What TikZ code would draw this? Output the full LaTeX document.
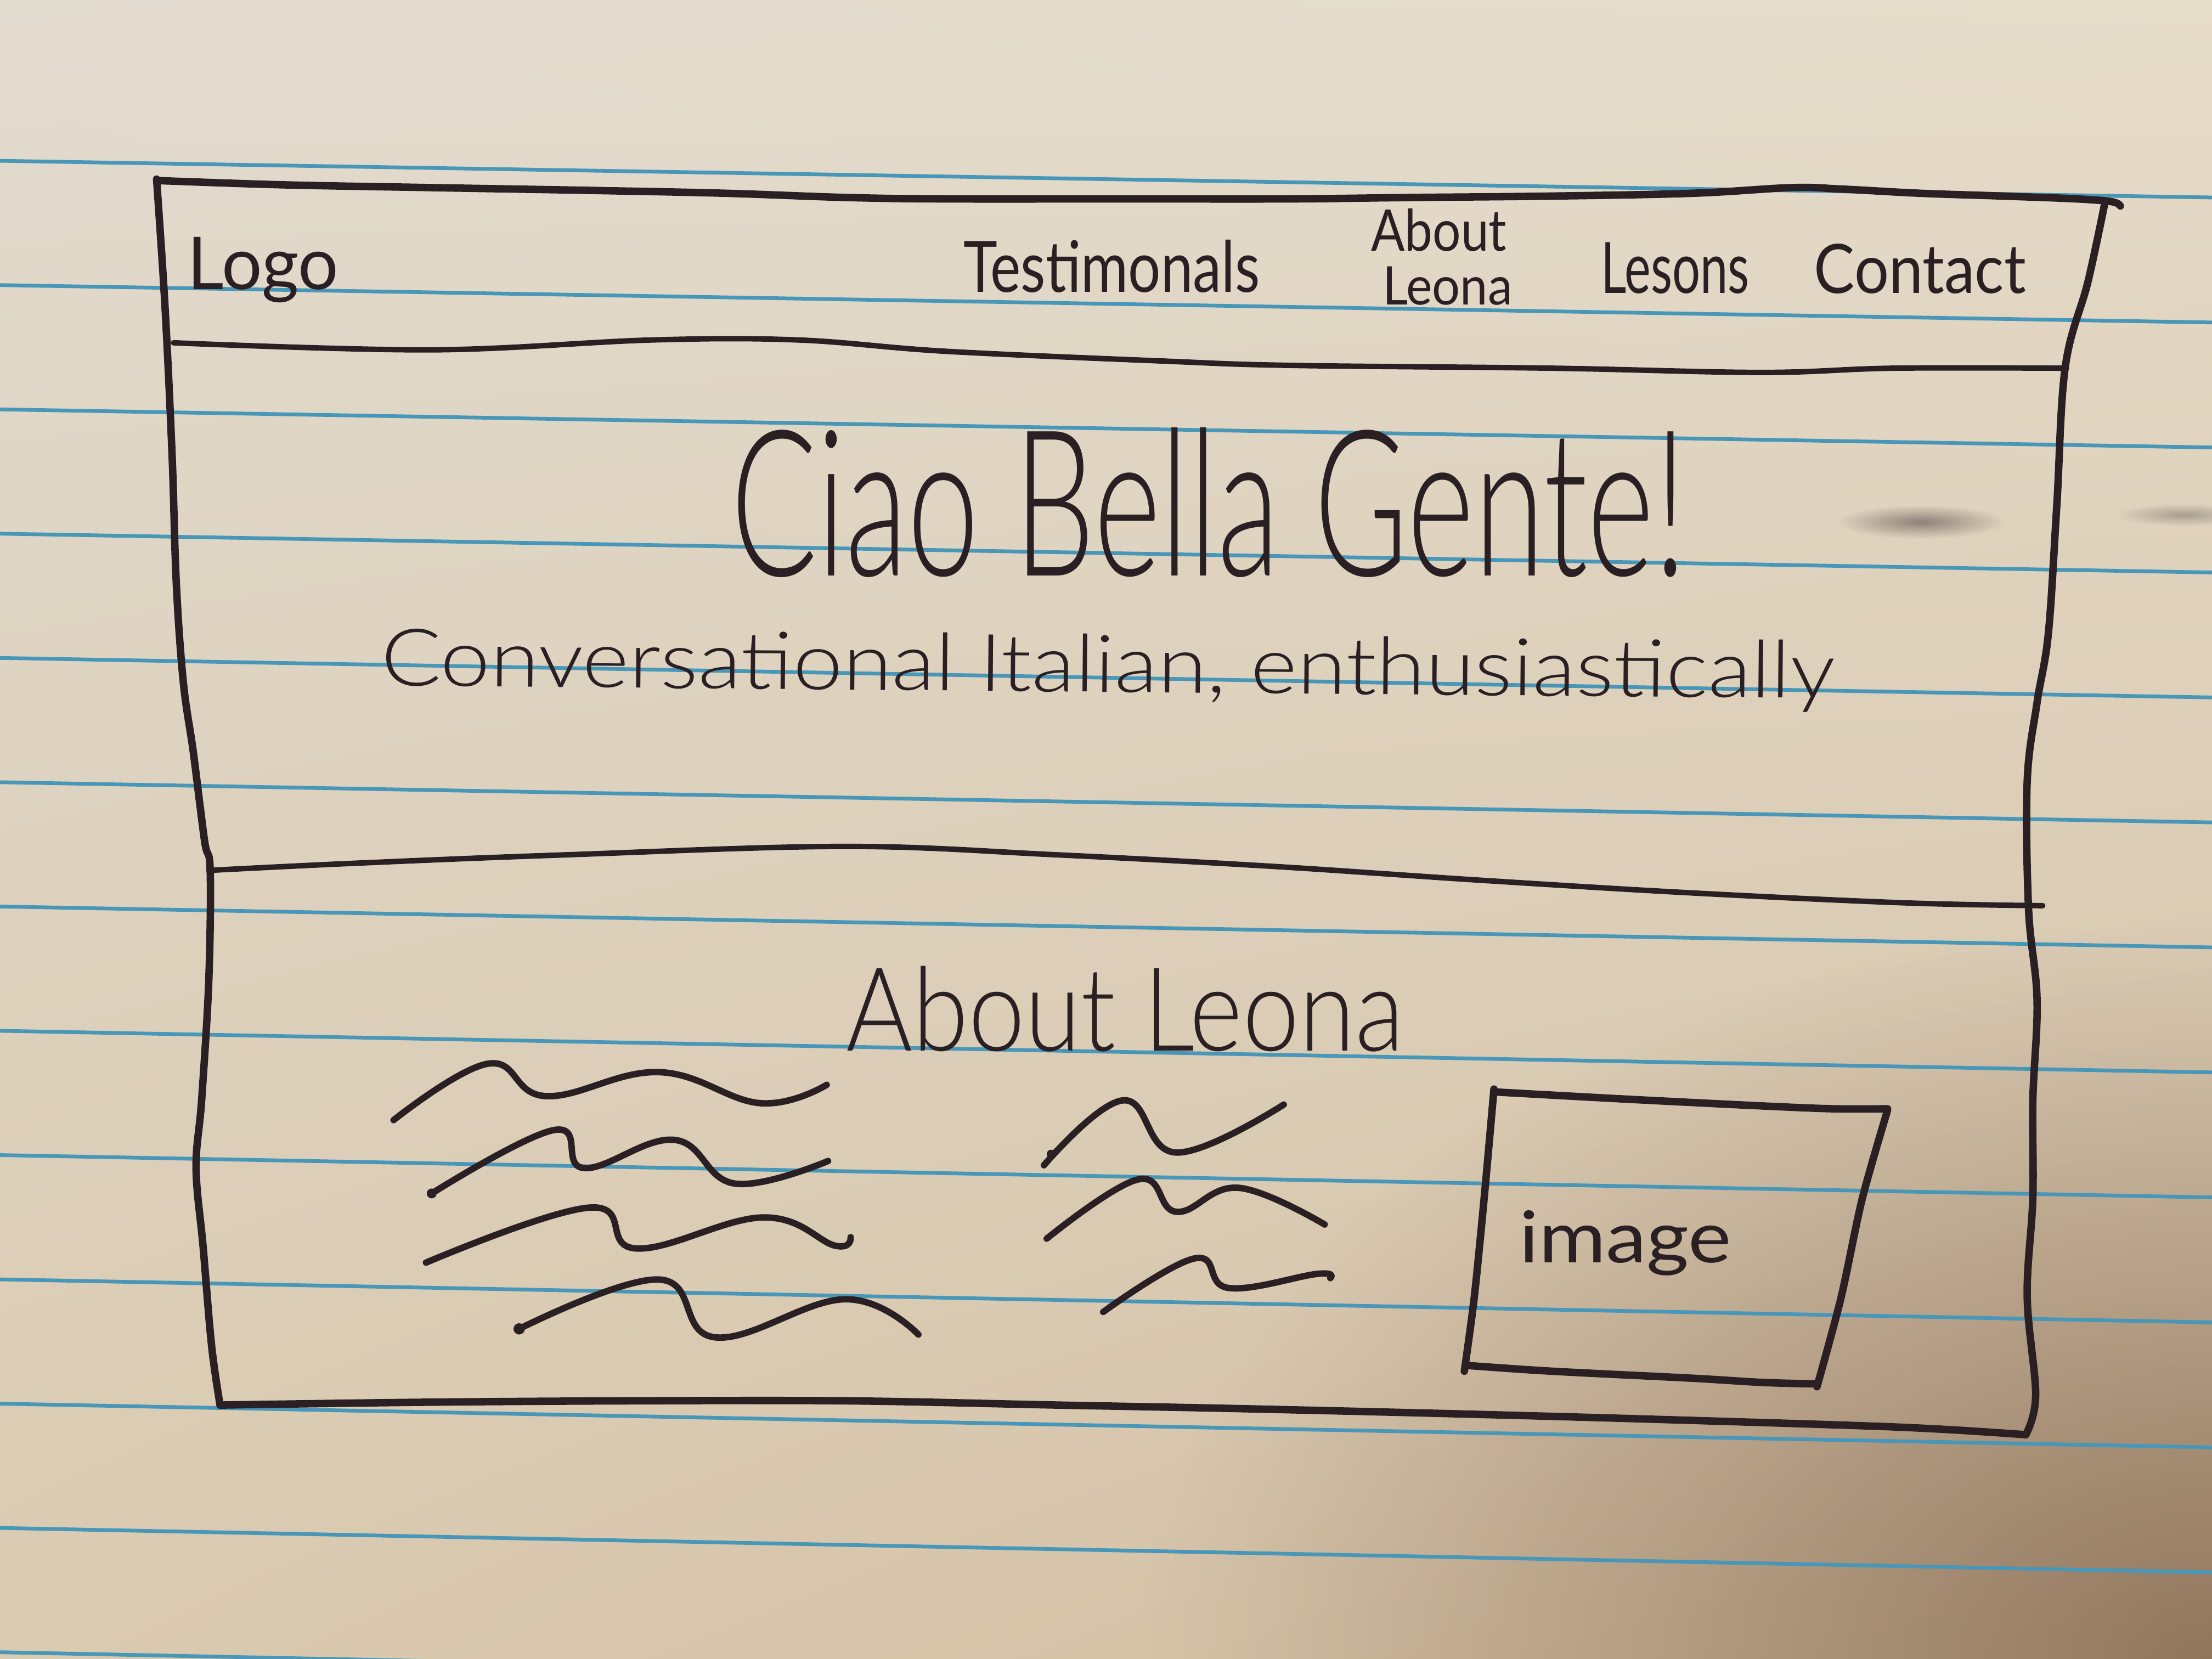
\documentclass[tikz,border=0pt]{standalone}
\usepackage{fontspec}
\setmainfont{Lato}
\newfontfamily\thinhand{Lato Light}
\usepackage{graphicx}
\usetikzlibrary{shadings,fadings}

\definecolor{paperA}{RGB}{226,219,207}
\definecolor{paperB}{RGB}{230,220,202}
\definecolor{paperC}{RGB}{218,202,176}
\definecolor{paperD}{RGB}{210,190,162}
\definecolor{shadowc}{RGB}{110,80,56}
\definecolor{rulec}{RGB}{72,150,184}
\definecolor{inkc}{RGB}{42,32,36}

% soft radial spot: opaque centre, transparent rim
\tikzfading[name=softspot, inner color=transparent!0, outer color=transparent!100]

% text squeezed to a given width and height above the baseline
\newcommand{\handtext}[3]{\resizebox{#1}{#2}{#3}}

\begin{document}
\begin{tikzpicture}[x=0.01cm,y=-0.01cm,
  rule/.style={draw=rulec, line width=0.75pt},
  pen/.style={draw=inkc, line width=1.5pt, line cap=round, line join=round},
  thinpen/.style={draw=inkc, line width=1.1pt, line cap=round, line join=round},
  wave/.style={draw=inkc, line width=1.3pt, line cap=round, line join=round},
  label/.style={inner sep=0pt, outer sep=0pt, text=inkc, anchor=base west}]

\useasboundingbox (0,0) rectangle (1568,1176);

% sheet of paper, darker towards the lower right corner
\shade[upper left=paperA, upper right=paperB, lower left=paperC, lower right=paperD]
  (0,0) rectangle (1568,1176);
\begin{scope}
  \clip (0,0) rectangle (1568,1176);
  \fill[shadowc, opacity=0.65, path fading=softspot]
    (1568,1176) ellipse (760 and 520);
\end{scope}

% ruled lines
\foreach \i in {0,...,12}
  \draw[rule] (0,{114+88.1*\i}) -- (1568,{140+88.6*\i});

% page frame
\draw[pen] plot[smooth, tension=0.6] coordinates {(112,128) (200,131) (306,133) (420,135) (514,137) (600,140) (670,141) (800,141) (914,141) (1000,140) (1100,139) (1200,137) (1270,133) (1305,134) (1361,137) (1420,139) (1472,141) (1497,143) (1503,146)};
\draw[pen] plot[smooth, tension=0.6] coordinates {(1492,144) (1480,200) (1464,260) (1458,358) (1452,449) (1444,498) (1437,554) (1438,645) (1444,709) (1441,780) (1441,849) (1437,919) (1443,989) (1436,1017)};
\draw[pen] plot[smooth, tension=0.6] coordinates {(111,127) (117,218) (122,323) (125,414) (130,484) (137,533) (145,596) (149,617) (148,695) (143,779) (139,828) (144,884) (150,954) (156,996)};
\draw[pen] plot[smooth, tension=0.6] coordinates {(156,996) (300,994) (450,993) (600,993) (750,996) (900,999) (1100,1004) (1300,1010) (1374,1013) (1436,1017)};

% navigation bar divider
\draw[thinpen] plot[smooth, tension=0.6] coordinates {(123,243) (306,248) (462,241) (566,241) (670,249) (826,256) (914,259) (1100,261) (1249,264) (1342,261) (1465,261)};
% hero divider
\draw[thinpen] plot[smooth, tension=0.6] coordinates {(148,617) (250,612) (400,606) (600,600) (750,606) (900,614) (1050,624) (1200,633) (1350,640) (1448,642)};

% navigation labels
\node[label] (logo) at (133,205) {\handtext{1.07cm}{0.37cm}{Logo}};
\node[label] (testimonials) at (683,207) {\handtext{2.10cm}{0.37cm}{Testimonals}};
\node[label] (about1) at (972,178) {\handtext{0.96cm}{0.30cm}{About}};
\node[label] (about2) at (980,216) {\handtext{0.92cm}{0.27cm}{Leona}};
\node[label] (lessons) at (1135,208) {\handtext{1.05cm}{0.36cm}{Lesons}};
\node[label] (contact) at (1286,208) {\handtext{1.50cm}{0.35cm}{Contact}};

% hero
\node[label] (title) at (518,408) {\handtext{6.77cm}{1.05cm}{\thinhand Ciao Bella Gente!}};
\node[label, rotate=-0.5] (tagline) at (270,486) {\handtext{10.30cm}{0.41cm}{\thinhand Conversational Italian, enthusiastically}};

% about section
\node[label] (abouthead) at (600,745) {\handtext{3.95cm}{0.60cm}{\thinhand About Leona}};

% placeholder text lines, left column
\draw[wave] plot[smooth, tension=0.7] coordinates {(279,794) (346,754) (387,777) (467,760) (539,782) (586,769)};
\draw[wave] plot[smooth, tension=0.7] coordinates {(306,846) (393,801) (414,828) (478,808) (521,839) (587,823)};
\draw[wave] plot[smooth, tension=0.7] coordinates {(302,895) (418,856) (451,885) (541,863) (592,883) (603,877)};
\draw[wave] plot[smooth, tension=0.7] coordinates {(368,942) (467,907) (507,948) (599,921) (651,946)};
\fill[inkc] (306,846) circle (3.5);
\fill[inkc] (368,942) circle (4);

% placeholder text lines, middle column
\draw[wave] plot[smooth, tension=0.7] coordinates {(740,826) (796,780) (834,817) (910,783)};
\draw[wave] plot[smooth, tension=0.7] coordinates {(742,878) (807,836) (834,859) (878,842) (939,868)};
\draw[wave] plot[smooth, tension=0.7] coordinates {(782,930) (847,892) (871,913) (934,903) (943,906)};
\fill[inkc] (745,818) circle (3);

% image placeholder
\draw[pen] plot[smooth, tension=0.5] coordinates {(1059,774) (1150,779) (1250,784) (1300,786) (1338,786)};
\draw[pen] plot[smooth, tension=0.5] coordinates {(1338,787) (1320,850) (1305,920) (1288,983)};
\draw[pen] plot[smooth, tension=0.5] coordinates {(1041,968) (1100,972) (1200,977) (1250,980) (1288,981)};
\draw[pen] plot[smooth, tension=0.5] coordinates {(1059,772) (1052,850) (1045,920) (1038,972)};
\node[label] (imagetxt) at (1077,895) {\handtext{1.50cm}{0.37cm}{image}};

% stray smudges
\fill[inkc, opacity=0.45, path fading=softspot] (1362,370) ellipse (60 and 12);
\fill[inkc, opacity=0.3, path fading=softspot] (1548,365) ellipse (48 and 8);

\end{tikzpicture}
\end{document}
